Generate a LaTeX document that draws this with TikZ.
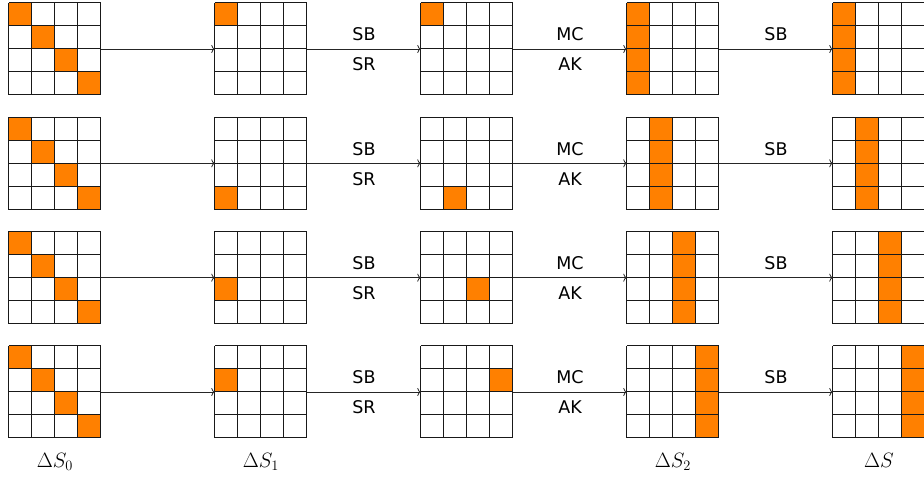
\documentclass[tikz,border=0pt]{standalone}
\usepackage{fontspec}
\newfontfamily\labfont{DejaVu Sans}
\usetikzlibrary{arrows.meta,calc}

\tikzset{
  cellline/.style={draw=black!90, line width=1.1pt},
  hot/.style={fill=orange, draw=none},
  conn/.style={draw=black!85, line width=0.8pt, -{To[length=3.5pt,width=8pt]}},
  oplabel/.style={font=\labfont\fontsize{17.5}{20}\selectfont, anchor=base, inner sep=0pt},
  statelabel/.style={font=\fontsize{21}{25}\selectfont, anchor=base, inner sep=0pt},
  gridbox/.style={minimum size=92pt, inner sep=0pt, draw=none}
}

\newcommand{\hotcell}[3]{% grid name, row from top, column
  \fill[orange] ($(#1.north west)+(23*#3,-23*#2)$) rectangle ++(23,-23);}

\begin{document}
\begin{tikzpicture}[x=1pt,y=1pt]
\useasboundingbox (0,0) rectangle (924,479);

% grid boxes
\foreach \r in {0,...,3} {
  \pgfmathsetmacro\yt{476-114.333*\r}
  \foreach \c/\x in {0/9,1/215,2/421,3/627,4/833} {
    \node[gridbox] (g\r\c) at (\x+46,\yt-46) {};
  }
}

% orange cells
\foreach \r in {0,...,3} {
  \pgfmathtruncatemacro\k{mod(4-\r,4)}
  \foreach \i in {0,...,3} {
    \hotcell{g\r0}{\i}{\i}
    \hotcell{g\r3}{\i}{\r}
    \hotcell{g\r4}{\i}{\r}
  }
  \hotcell{g\r1}{\k}{0}
  \hotcell{g\r2}{\k}{\r}
}

% grid lines
\foreach \r in {0,...,3} {
  \foreach \c in {0,...,4} {
    \foreach \k in {0,...,4} {
      \draw[cellline] ($(g\r\c.north west)+(23*\k,0)$) -- ($(g\r\c.south west)+(23*\k,0)$);
      \draw[cellline] ($(g\r\c.north west)+(0,-23*\k)$) -- ($(g\r\c.north east)+(0,-23*\k)$);
    }
  }
}

% connectors and operation labels
\foreach \r in {0,...,3} {
  \draw[conn] (g\r0.east) -- (g\r1.west);
  \draw[conn] (g\r1.east) -- (g\r2.west);
  \draw[conn] (g\r2.east) -- (g\r3.west);
  \draw[conn] (g\r3.east) -- (g\r4.west);
  \node[oplabel] (sb\r) at ($($(g\r1.east)!0.5!(g\r2.west)$)+(0,8)$) {SB};
  \node[oplabel] (sr\r) at ($($(g\r1.east)!0.5!(g\r2.west)$)+(0,-22)$) {SR};
  \node[oplabel] (mc\r) at ($($(g\r2.east)!0.5!(g\r3.west)$)+(0,8)$) {MC};
  \node[oplabel] (ak\r) at ($($(g\r2.east)!0.5!(g\r3.west)$)+(0,-22)$) {AK};
  \node[oplabel] (sbb\r) at ($($(g\r3.east)!0.5!(g\r4.west)$)+(0,8)$) {SB};
}

% state labels
\node[statelabel] (l0) at ($(g30.south)+(0,-29)$) {$\Delta S_0$};
\node[statelabel] (l1) at ($(g31.south)+(0,-29)$) {$\Delta S_1$};
\node[statelabel] (l3) at ($(g33.south)+(0,-29)$) {$\Delta S_2$};
\node[statelabel] (l4) at ($(g34.south)+(0,-29)$) {$\Delta S$};
\end{tikzpicture}
\end{document}
